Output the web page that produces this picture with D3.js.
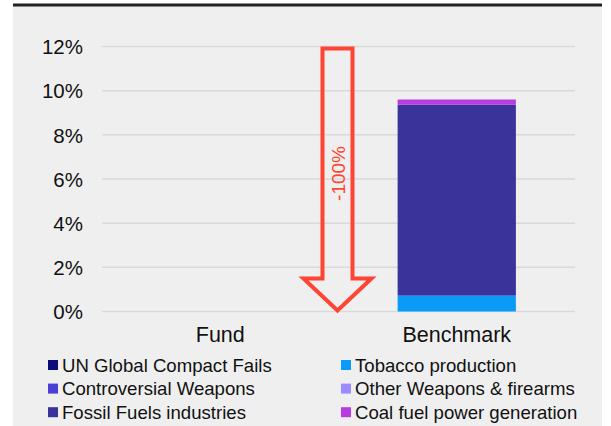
<!DOCTYPE html>
<html><head><meta charset="utf-8">
<script src="https://cdn.jsdelivr.net/npm/d3@7"></script>
<style>body{margin:0;background:#fff}svg{display:block;font-family:"Liberation Sans",Arial,sans-serif}</style>
</head><body><svg id="c" width="611" height="426"></svg>
<script>
const categories = ["Fund", "Benchmark"];
const seriesNames = ["UN Global Compact Fails","Tobacco production","Controversial Weapons","Other Weapons & firearms","Fossil Fuels industries","Coal fuel power generation"];
const seriesColors = ["#0a0a78","#0a9bf7","#4b40d6","#9a8cff","#3a3399","#b83de0"];
// values in %, per category [Fund, Benchmark]
const unGlobal = [0, 0];
const tobacco = [0, 0.72];
const controversial = [0, 0];
const otherWeapons = [0, 0];
const fossil = [0, 8.65];
const coal = [0, 0.23];
const stackOrder = ["Tobacco production","UN Global Compact Fails","Controversial Weapons","Other Weapons & firearms","Fossil Fuels industries","Coal fuel power generation"];
const yTicks = [0, 2, 4, 6, 8, 10, 12];
const arrowLabel = "-100%";

const valuesBySeries = {
  "UN Global Compact Fails": unGlobal,
  "Tobacco production": tobacco,
  "Controversial Weapons": controversial,
  "Other Weapons & firearms": otherWeapons,
  "Fossil Fuels industries": fossil,
  "Coal fuel power generation": coal
};
const table = categories.map((c, i) => {
  const r = {cat: c};
  seriesNames.forEach(s => r[s] = valuesBySeries[s][i]);
  return r;
});
const color = d3.scaleOrdinal(seriesNames, seriesColors);

const svg = d3.select("#c");
svg.append("rect").attr("x", 13).attr("y", 5).attr("width", 589).attr("height", 421).attr("fill", "#efefef");
svg.append("line").attr("x1", 13).attr("x2", 602).attr("y1", 5).attr("y2", 5).attr("stroke", "#222").attr("stroke-width", 3);

const x = d3.scaleBand().domain(categories).range([102, 575]).paddingInner(0.5).paddingOuter(0.25);
const y = d3.scaleLinear().domain([0, 12]).range([311.5, 46.5]);

// grid
svg.append("g").selectAll("line").data(yTicks).join("line")
  .attr("x1", 102).attr("x2", 575)
  .attr("y1", d => y(d)).attr("y2", d => y(d))
  .attr("stroke", "#d9d9d9").attr("stroke-width", 1.5);

// y axis labels
const yAxis = d3.axisLeft(y).tickValues(yTicks).tickFormat(d => d + "%").tickSize(0).tickPadding(0);
const ya = svg.append("g").attr("transform", "translate(83,0)").call(yAxis);
ya.select(".domain").remove();
ya.selectAll("text").attr("font-size", 20.5).attr("fill", "#111").attr("font-family", "Liberation Sans, Arial, sans-serif").attr("dy", "0.35em");

// stacked bars
const stack = d3.stack().keys(stackOrder)(table);
svg.append("g").selectAll("g").data(stack).join("g")
  .attr("fill", d => color(d.key))
  .selectAll("rect").data(d => d).join("rect")
  .attr("x", d => x(d.data.cat))
  .attr("width", x.bandwidth())
  .attr("y", d => y(d[1]))
  .attr("height", d => Math.max(0, y(d[0]) - y(d[1])));

// x axis labels
const xAxis = d3.axisBottom(x).tickSize(0).tickPadding(0);
const xa = svg.append("g").attr("transform", "translate(0,327)").call(xAxis);
xa.select(".domain").remove();
xa.selectAll("text").attr("font-size", 21.5).attr("fill", "#111").attr("font-family", "Liberation Sans, Arial, sans-serif").attr("dy", "0.71em");

// arrow annotation
const ax = (x("Fund") + x.bandwidth() + x("Benchmark")) / 2 - 1;
const sw = 15, hw = 34;
const yTop = y(12) + 2, yHead = y(1.5), yTip = y(0.05);
const path = [
  [ax - sw, yTop], [ax + sw, yTop], [ax + sw, yHead], [ax + hw, yHead],
  [ax, yTip], [ax - hw, yHead], [ax - sw, yHead]
];
svg.append("path").attr("d", d3.line()(path) + "Z")
  .attr("fill", "none").attr("stroke", "#ff4433").attr("stroke-width", 4).attr("stroke-linejoin", "miter");
svg.append("text").attr("transform", `translate(${ax + 7},${y(6.25)}) rotate(-90)`)
  .attr("text-anchor", "middle").attr("font-size", 19).attr("fill", "#ff4433")
  .text(arrowLabel);

// legend
const legendItems = seriesNames.map((s, i) => ({name: s, col: i % 2, row: Math.floor(i / 2)}));
const lg = svg.append("g").selectAll("g").data(legendItems).join("g")
  .attr("transform", d => `translate(${d.col === 0 ? 48 : 341},${365 + d.row * 23.6})`);
lg.append("rect").attr("x", 0).attr("y", -5).attr("width", 10).attr("height", 10).attr("fill", d => color(d.name));
lg.append("text").attr("x", 14).attr("dy", "0.36em").attr("font-size", 18.6).attr("fill", "#111").text(d => d.name);
</script></body></html>
